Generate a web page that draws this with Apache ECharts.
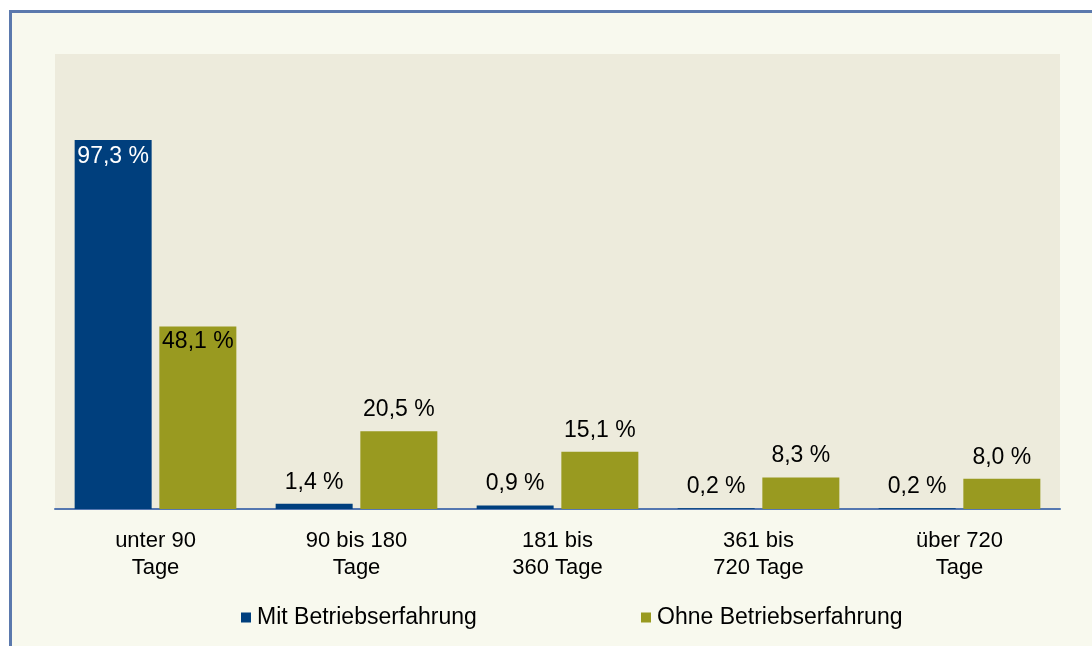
<!DOCTYPE html>
<html>
<head>
<meta charset="utf-8">
<script src="https://cdn.jsdelivr.net/npm/echarts@6/dist/echarts.min.js"></script>
<style>
  html, body { margin: 0; padding: 0; background: #ffffff; overflow: hidden; }
  .frame {
    position: absolute; left: 9px; top: 10px; width: 1200px; height: 800px;
    border-left: 3px solid #5b79ad; border-top: 3px solid #5b79ad;
    background: #f8f9ee;
  }
  .chart-container { position: absolute; left: 0; top: 0; width: 1092px; height: 646px; }
</style>
</head>
<body>
<div class="frame"></div>
<div id="chart" class="chart-container"></div>
<script>
  const categories = ['unter 90\nTage', '90 bis 180\nTage', '181 bis\n360 Tage', '361 bis\n720 Tage', 'über 720\nTage'];
  const mitValues = [97.3, 1.4, 0.9, 0.2, 0.2];
  const ohneValues = [48.1, 20.5, 15.1, 8.3, 8.0];
  const seriesNames = ['Mit Betriebserfahrung', 'Ohne Betriebserfahrung'];

  const font = 'Arial, "Liberation Sans", sans-serif';
  const fmt = p => p.value.toFixed(1).replace('.', ',') + ' %';

  const chart = echarts.init(document.getElementById('chart'));

  // erster Balken jeweils mit Beschriftung innen
  const mitData = mitValues.map((v, i) => i === 0
    ? { value: v, label: { position: 'insideTop', distance: 5, color: '#ffffff' } }
    : v);
  const ohneData = ohneValues.map((v, i) => i === 0
    ? { value: v, label: { position: 'insideTop', distance: 4, color: '#000000' } }
    : v);

  const labelBase = {
    show: true,
    position: 'top',
    distance: 10,
    formatter: fmt,
    color: '#000000',
    fontFamily: font,
    fontSize: 23
  };

  const legendBase = {
    top: 606,
    padding: 0,
    itemWidth: 10,
    itemHeight: 10,
    icon: 'rect',
    textStyle: { fontFamily: font, fontSize: 23, color: '#000000', padding: [0, 0, 0, 1] }
  };

  const option = {
    animation: false,
    grid: {
      left: 55,
      right: 32,
      top: 54,
      bottom: 137,
      show: true,
      backgroundColor: '#edebdc',
      borderWidth: 0
    },
    legend: [
      Object.assign({ data: [seriesNames[0]], left: 241 }, legendBase),
      Object.assign({ data: [seriesNames[1]], left: 641 }, legendBase)
    ],
    xAxis: {
      type: 'category',
      data: categories,
      axisTick: { show: false },
      axisLine: { lineStyle: { color: '#5577b0', width: 2 } },
      axisLabel: {
        margin: 18,
        color: '#000000',
        fontFamily: font,
        fontSize: 22,
        lineHeight: 27
      }
    },
    yAxis: {
      type: 'value',
      min: 0,
      max: 120,
      show: false
    },
    series: [
      {
        name: seriesNames[0],
        type: 'bar',
        barWidth: 77,
        barGap: '10%',
        data: mitData,
        itemStyle: { color: '#003f7d' },
        label: labelBase
      },
      {
        name: seriesNames[1],
        type: 'bar',
        barWidth: 77,
        barGap: '10%',
        data: ohneData,
        itemStyle: { color: '#999a20' },
        label: labelBase
      }
    ]
  };
  chart.setOption(option);
</script>
</body>
</html>
